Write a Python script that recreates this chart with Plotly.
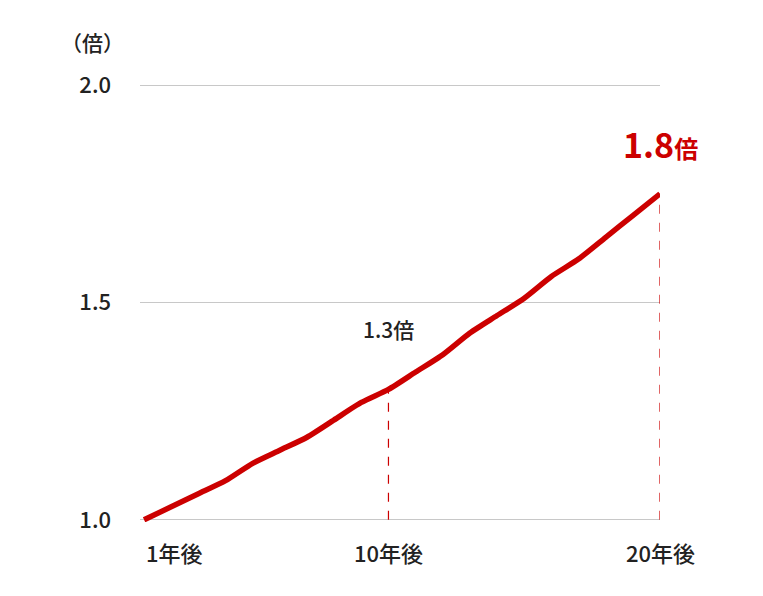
import plotly.graph_objects as go

years = list(range(1, 21))
values = [1.00, 1.03, 1.06, 1.09, 1.13, 1.16, 1.19, 1.23, 1.27, 1.30,
          1.34, 1.38, 1.43, 1.47, 1.51, 1.56, 1.60, 1.65, 1.70, 1.75]
x_ticks = [1, 10, 20]
x_labels = ["1年後", "10年後", "20年後"]
y_ticks = [1.0, 1.5, 2.0]
y_labels = ["1.0", "1.5", "2.0"]

RED = "#cc0000"
INK = "#222222"
FONT = "Noto Sans CJK JP"

fig = go.Figure()

# dashed drop lines at 10 and 20 years
for yr in [10, 20]:
    fig.add_trace(go.Scatter(
        x=[yr, yr], y=[1.0, values[yr - 1]], mode="lines",
        line=dict(color=RED, width=1.2, dash="dash"), hoverinfo="skip"))

fig.add_trace(go.Scatter(
    x=years, y=values, mode="lines",
    line=dict(color=RED, width=5.5, shape="spline", smoothing=0.6),
    hoverinfo="skip"))

annotations = [
    dict(x=10, y=1.44, text="1.3倍", showarrow=False,
         font=dict(size=21, color=INK, family=FONT, weight=500)),
    dict(x=20, y=1.865, text="1.8<span style='font-size:24px'>倍</span>",
         showarrow=False, font=dict(size=34, color=RED, family=FONT, weight=700)),
    dict(x=0, xref="paper", xanchor="right", xshift=-14, y=1.0, yref="paper",
         yanchor="bottom", yshift=24, text="（倍）", showarrow=False,
         font=dict(size=21, color=INK, family=FONT, weight=500)),
]
for i, (t, lab) in enumerate(zip(x_ticks, x_labels)):
    annotations.append(dict(
        x=t, y=0, yref="paper", yanchor="top", yshift=-12,
        xanchor="left" if i == 0 else "center", text=lab, showarrow=False,
        font=dict(size=22, color=INK, family=FONT, weight=500)))

fig.update_layout(
    width=763, height=596,
    margin=dict(l=132, r=111, t=75, b=82),
    paper_bgcolor="white", plot_bgcolor="white",
    showlegend=False,
    font=dict(family=FONT, size=20, color=INK),
    xaxis=dict(range=[0.85, 20], showgrid=False, zeroline=False,
               showticklabels=False, showline=False),
    yaxis=dict(range=[0.995, 2.005], tickvals=y_ticks, ticktext=y_labels,
               showgrid=True, gridcolor="#c8c8c8", gridwidth=1,
               zeroline=False, showline=False, ticks="", ticklabelstandoff=28,
               tickfont=dict(size=22, family=FONT, color=INK, weight=500)),
    annotations=annotations,
)

fig.write_html("out.html")
